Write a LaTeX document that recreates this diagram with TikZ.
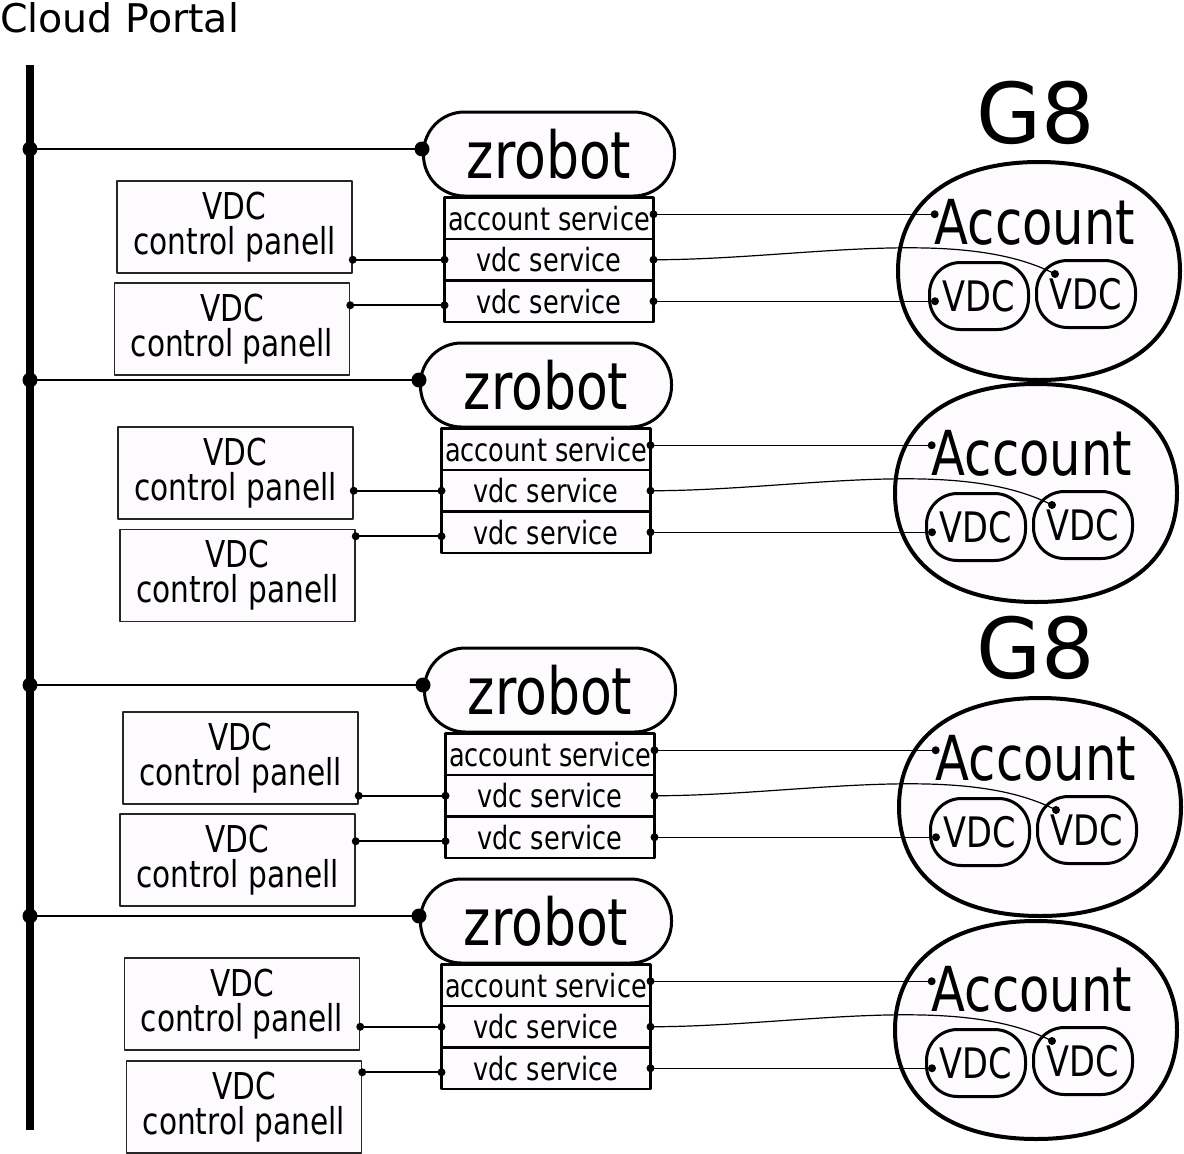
\documentclass[tikz,border=0pt]{standalone}
\usepackage{fontspec}
\setmainfont{DejaVu Sans}
\newfontfamily\narrowfont{DejaVu Sans}[FakeStretch=0.8]
\usetikzlibrary{positioning}
\definecolor{lilacwhite}{RGB}{253,251,254}

\begin{document}
\begin{tikzpicture}[x=1pt,y=-1pt,line cap=round,line join=round,
  robot/.style={draw,line width=3pt,fill=lilacwhite,rounded corners=41pt,minimum width=251pt,minimum height=84pt,inner sep=0pt,font=\narrowfont\fontsize{65}{65}\selectfont},
  service/.style={draw,line width=2.5pt,fill=lilacwhite,minimum width=209pt,minimum height=41.5pt,inner sep=0pt,outer sep=0pt,font=\narrowfont\fontsize{32}{32}\selectfont},
  panel/.style={draw=black!85,line width=1.5pt,fill=lilacwhite,minimum width=235pt,minimum height=92pt,inner sep=0pt,align=center,font=\narrowfont\fontsize{37}{35}\selectfont},
  vdc/.style={draw,line width=3pt,fill=lilacwhite,rounded corners=31pt,minimum width=99pt,minimum height=67pt,inner sep=0pt,font=\narrowfont\fontsize{42}{42}\selectfont},
  acct/.style={inner sep=0pt,font=\narrowfont\fontsize{62}{62}\selectfont},
  g8box/.style={draw,line width=4pt,fill=lilacwhite},
  bigdot/.style={circle,fill=black,inner sep=0pt,minimum size=15pt},
  smalldot/.style={circle,fill=black,inner sep=0pt,minimum size=8pt},
  lconn/.style={line width=2pt},
  rconn/.style={line width=1.2pt}]
\useasboundingbox (0,0) rectangle (1184,1154);
\node[anchor=base west,inner sep=0pt,font=\fontsize{39.5}{39.5}\selectfont] (portal) at (0,32) {Cloud Portal};
\draw[line width=8pt,line cap=butt] (30,65) coordinate (bus) -- (30,1130);
\node[font=\fontsize{84}{84}\selectfont] (gtop) at (1036,113) {G8};
\node[font=\fontsize{84}{84}\selectfont] (gbot) at (1036,648) {G8};
% one zrobot with its services, panels and account
\foreach \g/\zx/\zy/\ax/\ay/\bx/\by/\ey in {1/549/154/234.5/227/232/329/117,2/546/385/235.5/473/237.5/575.5/108,3/550/690/240.5/758/237.5/860/117,4/546/921/242/1004/244/1107/109}{
\begin{scope}[shift={(\zx+490,\zy+\ey)}]
\draw[g8box] (141,0) .. controls (141,68) and (88,109) .. (0,109) .. controls (-88,109) and (-141,68) .. (-141,0) .. controls (-141,-68) and (-88,-109) .. (0,-109) .. controls (88,-109) and (141,-68) .. (141,0) -- cycle;
\end{scope}
\node[robot] (zr\g) at (\zx,\zy) {zrobot};
\node[service,below=0pt of zr\g] (as\g) {account service};
\node[service,below=0pt of as\g] (vsa\g) {vdc service};
\node[service,below=0pt of vsa\g] (vsb\g) {vdc service};
\node[panel] (pa\g) at (\ax,\ay) {VDC\\control panell};
\node[panel] (pb\g) at (\bx,\by) {VDC\\control panell};
\node[acct] (ac\g) at (\zx+486,\zy+68) {Account};
\node[vdc] (va\g) at (\zx+430,\zy+142) {VDC};
\node[vdc] (vb\g) at (\zx+537,\zy+140) {VDC};
% connectors
\coordinate (zw\g) at ([yshift=5pt]zr\g.west);
\draw[line width=2.2pt] (zw\g -| bus) node[bigdot] {} -- (zw\g) node[bigdot] {};
\draw[lconn] (vsa\g.west -| pa\g.east) node[smalldot] {} -- (vsa\g.west) node[smalldot] {};
\coordinate (cb\g) at ([yshift=-4pt]vsb\g.west);
\draw[lconn] (cb\g -| pb\g.east) node[smalldot] {} -- (cb\g) node[smalldot] {};
\coordinate (ae\g) at ([yshift=4pt]as\g.east);
\draw[rconn] (ae\g) node[smalldot] {} -- (ae\g -| ac\g.west) node[smalldot] {};
\coordinate (vbdot\g) at ([shift={(-31,-20)}]vb\g.center);
\draw[rconn] (vsa\g.east) node[smalldot] {} .. controls +(144,0) and +(-95,-49) .. (vbdot\g) node[smalldot] {};
\draw[rconn] (vsb\g.east) node[smalldot] {} -- (vsb\g.east -| va\g.west) -- ++(7,0) node[smalldot] {};
}
\end{tikzpicture}
\end{document}
